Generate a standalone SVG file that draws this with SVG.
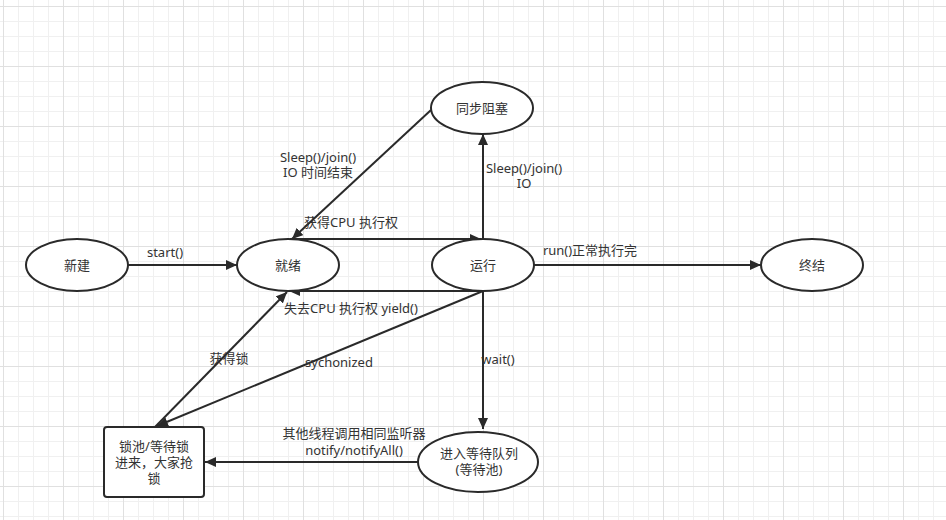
<svg xmlns="http://www.w3.org/2000/svg" width="946" height="520" viewBox="0 0 946 520">
<defs>
<pattern id="grid" x="3" y="6" width="60" height="60" patternUnits="userSpaceOnUse">
<path d="M15.5,0V60M30.5,0V60M45.5,0V60M0,15.5H60M0,30.5H60M0,45.5H60" stroke="#f0f0f0" stroke-width="1" fill="none"/>
<path d="M0.5,0V60M0,0.5H60" stroke="#e0e0e0" stroke-width="1" fill="none"/>
</pattern>
<marker id="arr" markerWidth="12" markerHeight="10" refX="11" refY="5" orient="auto" markerUnits="userSpaceOnUse">
<path d="M0,0 L11,5 L0,10 Z" fill="#2a2a2a"/>
</marker>
<style>
.node{fill:#fff;stroke:#2a2a2a;stroke-width:2}
.edge{fill:none;stroke:#2a2a2a;stroke-width:2;marker-end:url(#arr)}
text{font-family:"Noto Sans","Noto Sans CJK SC",sans-serif;font-size:13px;fill:#333;text-anchor:middle}
</style>
</defs>
<rect width="946" height="520" fill="#fff"/>
<rect width="946" height="520" fill="url(#grid)"/>

<g id="connectors">
<path class="edge" d="M128,265 L237,265"/>
<path class="edge" d="M290,239 L481,239"/>
<path class="edge" d="M431,110 L292,239"/>
<path class="edge" d="M483,239 L483,134"/>
<path class="edge" d="M534,265 L761,265"/>
<path class="edge" d="M483,291 L289,291"/>
<path class="edge" d="M483,291 L157,426"/>
<path class="edge" d="M155,427 L287,292"/>
<path class="edge" d="M483,291 L483,429"/>
<path class="edge" d="M418,462 L205,462"/>
<text x="165" y="257">start()</text>
<text x="351" y="227">获得CPU 执行权</text>
<text x="318" y="162">Sleep()/join()</text>
<text x="318" y="177">IO 时间结束</text>
<text x="524" y="173">Sleep()/join()</text>
<text x="524" y="188">IO</text>
<text x="590" y="255">run()正常执行完</text>
<text x="351" y="313">失去CPU 执行权 yield()</text>
<text x="229" y="363">获得锁</text>
<text x="339" y="367">sychonized</text>
<text x="498" y="364">wait()</text>
<text x="354" y="438">其他线程调用相同监听器</text>
<text x="354" y="455">notify/notifyAll()</text>
</g>

<g id="new"><ellipse class="node" cx="77" cy="265" rx="51" ry="26"/><text x="77" y="270">新建</text></g>
<g id="ready"><ellipse class="node" cx="288" cy="265" rx="51" ry="26"/><text x="288" y="270">就绪</text></g>
<g id="running"><ellipse class="node" cx="483" cy="265" rx="51" ry="26"/><text x="483" y="270">运行</text></g>
<g id="terminated"><ellipse class="node" cx="812" cy="265" rx="51" ry="26"/><text x="812" y="270">终结</text></g>
<g id="blocked"><ellipse class="node" cx="482" cy="108" rx="51" ry="26"/><text x="482" y="113">同步阻塞</text></g>
<g id="waitpool"><ellipse class="node" cx="478" cy="462" rx="60" ry="30"/><text x="479" y="458">进入等待队列</text><text x="479" y="474">(等待池)</text></g>
<g id="lockpool"><rect class="node" x="104" y="427" width="100" height="70" rx="3"/><text x="154" y="451">锁池/等待锁</text><text x="154" y="467">进来，大家抢</text><text x="154" y="483">锁</text></g>
</svg>
